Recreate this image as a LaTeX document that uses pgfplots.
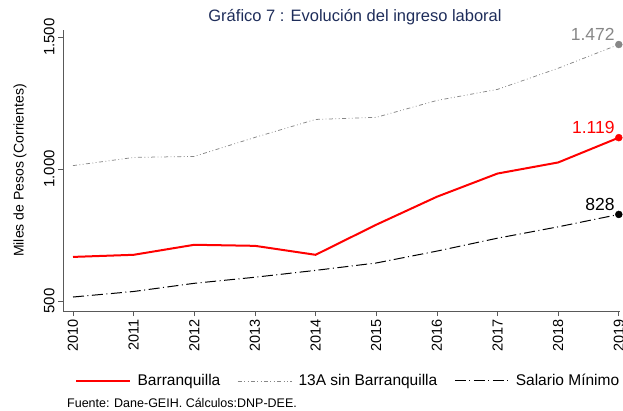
\documentclass[border=0pt]{standalone}
\usepackage{fontspec}
\setmainfont{Liberation Sans}
\usepackage{pgfplots}
\pgfplotsset{compat=1.18}
\definecolor{titleblue}{RGB}{30,45,90}
\definecolor{g13}{RGB}{135,135,135}
\begin{document}
\begin{tikzpicture}
\path[use as bounding box] (0pt,0pt) rectangle (623pt,-410pt);
\node[text=titleblue, font=\fontsize{16.5}{18}\selectfont] at (355pt,-17pt) {Gráfico 7 : Evolución del ingreso laboral};
\node[anchor=west, inner sep=0pt, font=\fontsize{12.5}{13}\selectfont] at (67pt,-403pt) {Fuente: Dane-GEIH. Cálculos:DNP-DEE.};
\begin{axis}[
  at={(63pt,-311pt)}, anchor=south west,
  width=557pt, height=281pt, scale only axis,
  xmin=2009.835, xmax=2019.02, ymin=462, ymax=1527,
  axis x line*=bottom, axis y line*=left,
  axis line style={gray!70!black, line width=0.7pt},
  tick align=outside, major tick length=5pt,
  tick style={gray!70!black, line width=0.7pt},
  xtick={2010,2011,2012,2013,2014,2015,2016,2017,2018,2019},
  xticklabels={2010,2011,2012,2013,2014,2015,2016,2017,2018,2019},
  ytick={500,1000,1500}, yticklabels={500,1.000,1.500},
  x tick label style={rotate=90, anchor=east, font=\fontsize{14.5}{15}\selectfont},
  y tick label style={rotate=90, anchor=south, font=\fontsize{15}{16}\selectfont},
  ylabel={Miles de Pesos (Corrientes)},
  ylabel style={font=\fontsize{14}{15}\selectfont, anchor=center, at={(axis description cs:-0.077,0.5)}},
  clip=false,
  legend columns=3,
  legend style={draw=none, fill=none, font=\fontsize{15.5}{16}\selectfont,
    at={(axis description cs:0.512,-0.249)}, anchor=center,
    /tikz/every odd column/.append style={column sep=4.5pt},
    /tikz/every even column/.append style={column sep=15pt}},
  legend image code/.code={\draw[#1] plot coordinates {(0pt,0pt) (27pt,0pt) (54pt,0pt)};},
]
\addplot[red, line width=2pt] coordinates {(2010,667)(2011,675)(2012,713)(2013,709)(2014,675)(2015,789)(2016,895)(2017,983)(2018,1025)(2019,1119)};
\addlegendentry{Barranquilla}
\addplot[g13, line width=0.75pt, dash pattern=on 4pt off 2.5pt on 0.8pt off 2.5pt on 0.8pt off 2.5pt] coordinates {(2010,1013)(2011,1044)(2012,1048)(2013,1120)(2014,1188)(2015,1196)(2016,1260)(2017,1302)(2018,1382)(2019,1472)};
\addlegendentry{13A sin Barranquilla}
\addplot[black, line width=1pt, dash pattern=on 11pt off 3.5pt on 1pt off 3.5pt] coordinates {(2010,515)(2011,536)(2012,567)(2013,590)(2014,616)(2015,644)(2016,689)(2017,738)(2018,781)(2019,828)};
\addlegendentry{Salario Mínimo}
\addplot[red, only marks, mark=*, mark size=3.5pt, forget plot, nodes near coords={1.119}, nodes near coords style={anchor=south east, xshift=-3pt, yshift=3pt, text=red, font=\fontsize{17.5}{18}\selectfont, inner sep=1pt}] coordinates {(2019,1119)};
\addplot[g13, only marks, mark=*, mark size=3.5pt, forget plot, nodes near coords={1.472}, nodes near coords style={anchor=south east, xshift=-3pt, yshift=3pt, text=g13, font=\fontsize{17.5}{18}\selectfont, inner sep=1pt}] coordinates {(2019,1472)};
\addplot[black, only marks, mark=*, mark size=3.5pt, forget plot, nodes near coords={828}, nodes near coords style={anchor=south east, xshift=-3pt, yshift=3pt, text=black, font=\fontsize{17.5}{18}\selectfont, inner sep=1pt}] coordinates {(2019,828)};
\end{axis}
\end{tikzpicture}
\end{document}
